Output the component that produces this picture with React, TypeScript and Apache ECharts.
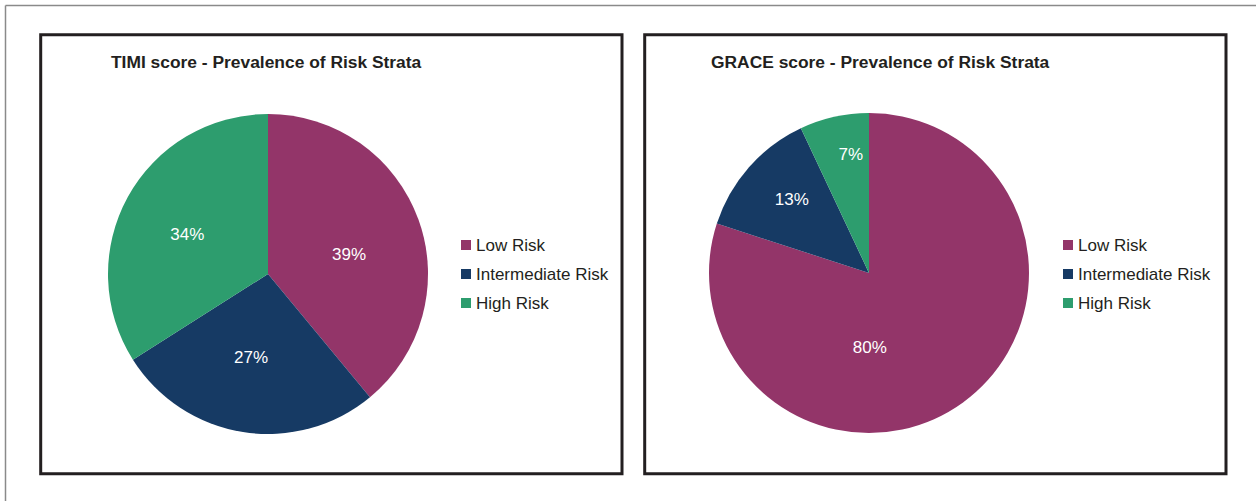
import React, { useEffect, useRef } from "react";
import * as echarts from "echarts";

const categories = ["Low Risk", "Intermediate Risk", "High Risk"];
const timiValues = [39, 27, 34];
const graceValues = [80, 13, 7];
const chartTitles = ["TIMI score - Prevalence of Risk Strata", "GRACE score - Prevalence of Risk Strata"];

const COLORS = ["#933569", "#163a64", "#2d9d6e"];
const FONT = "'Liberation Sans', Arial, Helvetica, sans-serif";
const TEXT = "#231f20";

// label nudges (layout only) relative to the default inside position
const LABEL_NUDGE = [
  [[3, 9], [-4, 2], [-8, 0]],
  [[-48, 7], [-15, -19], [0, -37]],
];

export default function App() {
  const ref = useRef<HTMLDivElement>(null);

  useEffect(() => {
    if (!ref.current) return;
    const chart = echarts.init(ref.current, null, { renderer: "svg" });

    const makePie = (idx: number, values: number[], center: [number, number]) => ({
      type: "pie",
      name: chartTitles[idx],
      center,
      radius: 160,
      startAngle: 90,
      clockwise: true,
      avoidLabelOverlap: false,
      label: {
        show: true,
        position: "inside",
        formatter: "{c}%",
        color: "#ffffff",
        fontFamily: FONT,
        fontSize: 17,
      },
      labelLine: { show: false },
      emphasis: { disabled: true },
      itemStyle: { borderWidth: 0 },
      labelLayout: (p: any) => {
        const n = LABEL_NUDGE[idx][p.dataIndex] || [0, 0];
        return { dx: n[0], dy: n[1] };
      },
      data: categories.map((c, i) => ({
        name: c,
        value: values[i],
        itemStyle: { color: COLORS[i] },
      })),
    });

    const makeLegend = (left: number) => ({
      orient: "vertical",
      left,
      top: 235,
      itemWidth: 10,
      itemHeight: 10,
      itemGap: 9,
      icon: "rect",
      padding: 0,
      textStyle: {
        fontFamily: FONT,
        fontSize: 17,
        color: TEXT,
        lineHeight: 20,
      },
      data: categories,
      selectedMode: false,
    });

    const titleStyle = { fontFamily: FONT, fontSize: 17.4, fontWeight: "bold", color: TEXT, lineHeight: 18 };

    chart.setOption({
      animation: false,
      backgroundColor: "#ffffff",
      title: [
        { text: chartTitles[0], left: 111, top: 53, padding: 0, textStyle: titleStyle },
        { text: chartTitles[1], left: 711, top: 53, padding: 0, textStyle: titleStyle },
      ],
      legend: [makeLegend(461), makeLegend(1063)],
      graphic: [
        {
          type: "line",
          shape: { x1: 5.5, y1: 5.5, x2: 1256, y2: 5.5 },
          style: { stroke: "#8a8a8a", lineWidth: 1.5 },
          silent: true,
        },
        {
          type: "line",
          shape: { x1: 5.5, y1: 5.5, x2: 5.5, y2: 501 },
          style: { stroke: "#8a8a8a", lineWidth: 1.5 },
          silent: true,
        },
        {
          type: "rect",
          shape: { x: 40.7, y: 34.7, width: 581.3, height: 439 },
          style: { fill: "none", stroke: TEXT, lineWidth: 3 },
          silent: true,
        },
        {
          type: "rect",
          shape: { x: 644.7, y: 34.7, width: 581.3, height: 439 },
          style: { fill: "none", stroke: TEXT, lineWidth: 3 },
          silent: true,
        },
      ],
      series: [makePie(0, timiValues, [268, 274]), makePie(1, graceValues, [869, 273])],
    });

    return () => chart.dispose();
  }, []);

  return (
    <div
      ref={ref}
      style={{ position: "absolute", left: 0, top: 0, width: 1256, height: 501, background: "#fff" }}
    />
  );
}
